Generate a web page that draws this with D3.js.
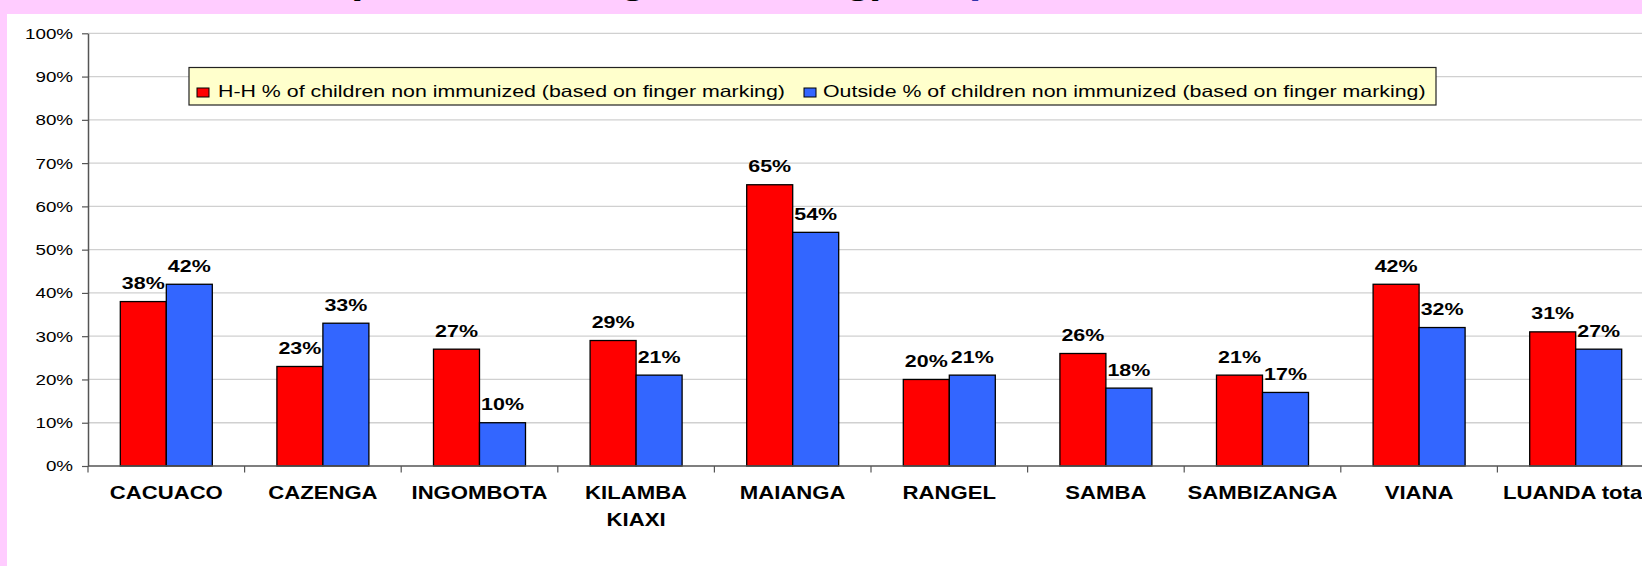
<!DOCTYPE html>
<html>
<head>
<meta charset="utf-8">
<script src="https://cdn.jsdelivr.net/npm/d3@7"></script>
<style>
	body { margin:0; padding:0; background:#ffccff; overflow:hidden; }
	text { font-family: Arial, "Liberation Sans", sans-serif; }
</style>
</head>
<body>
<div id="chart"></div>
<script>

// Datos por municipio
var categories = ["CACUACO", "CAZENGA", "INGOMBOTA", "KILAMBA KIAXI", "MAIANGA", "RANGEL", "SAMBA", "SAMBIZANGA", "VIANA", "LUANDA total"];
var categoryLabels = [["CACUACO"], ["CAZENGA"], ["INGOMBOTA"], ["KILAMBA", "KIAXI"], ["MAIANGA"], ["RANGEL"], ["SAMBA"], ["SAMBIZANGA"], ["VIANA"], ["LUANDA total"]];
var seriesNames = ["H-H % of children non immunized (based on finger marking)", "Outside % of children non immunized (based on finger marking)"];
var hhValues = [0.38, 0.23, 0.27, 0.29, 0.65, 0.20, 0.26, 0.21, 0.42, 0.31];
var outsideValues = [0.42, 0.33, 0.10, 0.21, 0.54, 0.21, 0.18, 0.17, 0.32, 0.27];
var yTicks = [0, 0.1, 0.2, 0.3, 0.4, 0.5, 0.6, 0.7, 0.8, 0.9, 1];

var seriesColors = ["#ff0000", "#3366ff"];

// Parametros generales (ojo: "top" ya existe en window)
var W = 1642, H = 566;
var plotLeft = 88, plotTop = 33.3, plotBottom = 466;
var step = 156.6;
var barW = 46;

// el texto original viene estirado horizontalmente
function stretchAt(x, s) {
	return "translate(" + x + ",0) scale(" + s + ",1) translate(" + (-x) + ",0)";
}

var svg = d3.select("#chart").append("svg")
	.attr("width", W)
	.attr("height", H);

svg.append("rect")
	.attr("width", W)
	.attr("height", H)
	.attr("fill", "#ffccff");

// titulo (casi todo queda fuera, arriba)
var title = svg.append("g")
	.attr("font-weight", "bold")
	.attr("font-size", 44);
title.append("text")
	.attr("x", 334).attr("y", -8)
	.attr("text-anchor", "end")
	.text("Non immunized children");
title.append("text")
	.attr("x", 346).attr("y", -8)
	.text("(based on finger marking)");
title.append("text")
	.attr("x", 969).attr("y", -8)
	.attr("fill", "#3333aa")
	.text("per district");

svg.append("rect")
	.attr("x", 7).attr("y", 14)
	.attr("width", W - 7)
	.attr("height", H - 14)
	.attr("fill", "#ffffff");

var x = d3.scaleBand()
	.domain(categories)
	.range([plotLeft, plotLeft + step * categories.length])
	.paddingInner(0).paddingOuter(0);

var xSub = d3.scaleBand()
	.domain([0, 1])
	.range([0, x.bandwidth()])
	.paddingInner(0)
	.paddingOuter((x.bandwidth() / barW - 2) / 2);

var y = d3.scaleLinear()
	.domain([0, 1])
	.range([plotBottom, plotTop]);

// lineas de grilla
svg.append("g").selectAll("line")
	.data(yTicks.slice(1))
	.enter()
		.append("line")
		.attr("x1", plotLeft).attr("x2", W)
		.attr("y1", function(d) { return y(d); })
		.attr("y2", function(d) { return y(d); })
		.attr("stroke", "#d0d0d0")
		.attr("stroke-width", 1.3);

// eje Y
var yAxis = svg.append("g")
	.attr("transform", "translate(" + plotLeft + ",0)")
	.call(d3.axisLeft(y).tickValues(yTicks).tickFormat(d3.format(".0%")).tickSize(6).tickSizeOuter(0).tickPadding(9));
yAxis
	.attr("font-family", "Arial, 'Liberation Sans', sans-serif")
	.attr("font-size", 15.4);
yAxis.select(".domain").attr("stroke", "#555").attr("stroke-width", 1.5);
yAxis.selectAll(".tick line").attr("stroke", "#555").attr("stroke-width", 1.2);
yAxis.selectAll(".tick text")
	.attr("fill", "#000")
	.attr("transform", stretchAt(-15, 1.22));

// leyenda
var legend = svg.append("g");
legend.append("rect")
	.attr("x", 189).attr("y", 67.5)
	.attr("width", 1247).attr("height", 37.5)
	.attr("fill", "#ffffcc")
	.attr("stroke", "#222")
	.attr("stroke-width", 1.2);

var legendX = [197, 804];
var legendTextX = [218, 823];
legend.selectAll("rect.sw")
	.data(seriesNames)
	.enter()
		.append("rect")
		.attr("class", "sw")
		.attr("x", function(d, i) { return legendX[i]; })
		.attr("y", 88)
		.attr("width", 12).attr("height", 9)
		.attr("fill", function(d, i) { return seriesColors[i]; })
		.attr("stroke", "#000")
		.attr("stroke-width", 1);
legend.selectAll("text")
	.data(seriesNames)
	.enter()
		.append("text")
		.attr("x", function(d, i) { return legendTextX[i]; })
		.attr("y", 97)
		.attr("font-size", 16.3)
		.attr("transform", function(d, i) { return stretchAt(legendTextX[i], 1.31); })
		.text(function(d) { return d; });

// barras
var groups = svg.append("g").selectAll("g")
	.data(categories)
	.enter()
		.append("g")
		.attr("transform", function(d) { return "translate(" + x(d) + ",0)"; });

var bars = groups.selectAll("rect")
	.data(function(d, i) { return [{k: 0, v: hhValues[i]}, {k: 1, v: outsideValues[i]}]; })
	.enter();

bars.append("rect")
	.attr("x", function(d) { return xSub(d.k); })
	.attr("y", function(d) { return y(d.v); })
	.attr("width", xSub.bandwidth())
	.attr("height", function(d) { return y(0) - y(d.v); })
	.attr("fill", function(d) { return seriesColors[d.k]; })
	.attr("stroke", "#000")
	.attr("stroke-width", 1.3);

bars.append("text")
	.attr("x", function(d) { return xSub(d.k) + xSub.bandwidth() / 2; })
	.attr("y", function(d) { return y(d.v) - 12.5; })
	.attr("text-anchor", "middle")
	.attr("font-weight", "bold")
	.attr("font-size", 16.5)
	.attr("transform", function(d) { return stretchAt(xSub(d.k) + xSub.bandwidth() / 2, 1.3); })
	.text(function(d) { return d3.format(".0%")(d.v); });

// eje X
svg.append("line")
	.attr("x1", plotLeft).attr("x2", W)
	.attr("y1", plotBottom).attr("y2", plotBottom)
	.attr("stroke", "#555")
	.attr("stroke-width", 1.5);

svg.append("g").selectAll("line")
	.data(categories)
	.enter()
		.append("line")
		.attr("x1", function(d) { return x(d); })
		.attr("x2", function(d) { return x(d); })
		.attr("y1", plotBottom).attr("y2", plotBottom + 6.5)
		.attr("stroke", "#555")
		.attr("stroke-width", 1.2);

var catText = svg.append("g").selectAll("text")
	.data(categories)
	.enter()
		.append("text")
		.attr("text-anchor", "middle")
		.attr("font-weight", "bold")
		.attr("font-size", 18.6)
		.attr("y", 499)
		.attr("transform", function(d) { return stretchAt(x(d) + x.bandwidth() / 2, 1.19); });

catText.selectAll("tspan")
	.data(function(d, i) { return categoryLabels[i].map(function(t) { return {t: t, c: d}; }); })
	.enter()
		.append("tspan")
		.attr("x", function(d) { return x(d.c) + x.bandwidth() / 2; })
		.attr("dy", function(d, i) { return i == 0 ? 0 : 27; })
		.text(function(d) { return d.t; });

</script>
</body>
</html>
